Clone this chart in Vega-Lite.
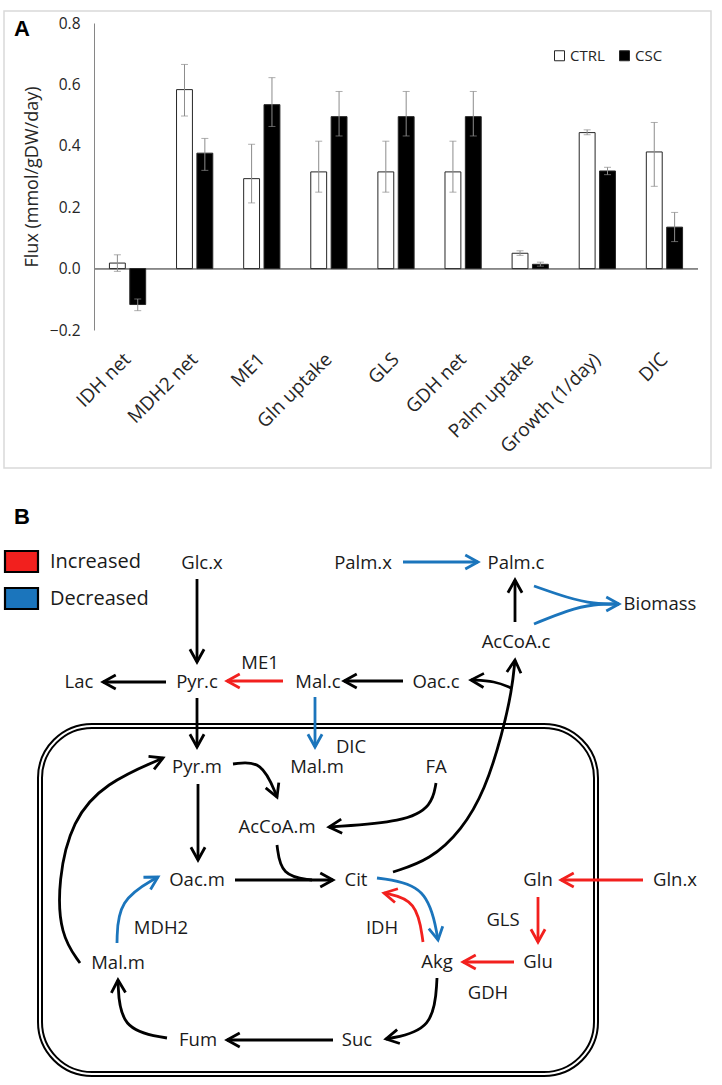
{
  "$schema": "https://vega.github.io/schema/vega-lite/v6.json",
  "width": 604,
  "height": 307,
  "autosize": {"type": "none"},
  "padding": {"left": 94, "top": 23, "right": 24, "bottom": 755},
  "background": "white",
  "config": {"view": {"stroke": null}, "font": "Open Sans"},
  "datasets": {
    "flux": [
      {"cat": "IDH net", "g": "CTRL", "v": 0.018, "lo": -0.009, "hi": 0.045},
      {"cat": "IDH net", "g": "CSC", "v": -0.117, "lo": -0.137, "hi": -0.099},
      {"cat": "MDH2 net", "g": "CTRL", "v": 0.583, "lo": 0.497, "hi": 0.665},
      {"cat": "MDH2 net", "g": "CSC", "v": 0.376, "lo": 0.32, "hi": 0.424},
      {"cat": "ME1", "g": "CTRL", "v": 0.293, "lo": 0.214, "hi": 0.405},
      {"cat": "ME1", "g": "CSC", "v": 0.534, "lo": 0.463, "hi": 0.622},
      {"cat": "Gln uptake", "g": "CTRL", "v": 0.315, "lo": 0.249, "hi": 0.415},
      {"cat": "Gln uptake", "g": "CSC", "v": 0.495, "lo": 0.432, "hi": 0.577},
      {"cat": "GLS", "g": "CTRL", "v": 0.315, "lo": 0.249, "hi": 0.415},
      {"cat": "GLS", "g": "CSC", "v": 0.495, "lo": 0.432, "hi": 0.577},
      {"cat": "GDH net", "g": "CTRL", "v": 0.315, "lo": 0.249, "hi": 0.415},
      {"cat": "GDH net", "g": "CSC", "v": 0.495, "lo": 0.432, "hi": 0.577},
      {"cat": "Palm uptake", "g": "CTRL", "v": 0.05, "lo": 0.043, "hi": 0.058},
      {"cat": "Palm uptake", "g": "CSC", "v": 0.014, "lo": 0.008, "hi": 0.021},
      {"cat": "Growth (1/day)", "g": "CTRL", "v": 0.443, "lo": 0.436, "hi": 0.452},
      {"cat": "Growth (1/day)", "g": "CSC", "v": 0.318, "lo": 0.306, "hi": 0.33},
      {"cat": "DIC", "g": "CTRL", "v": 0.38, "lo": 0.268, "hi": 0.476},
      {"cat": "DIC", "g": "CSC", "v": 0.135, "lo": 0.088, "hi": 0.183}
    ],
    "frames": [{"part": "A", "x1": 4, "x2": 711, "y1": 11, "y2": 468}],
    "membrane": [{"part": "mitochondrion", "x1": 40, "x2": 596, "y1": 726, "y2": 1074}],
    "keys": [
      {"c": "Increased", "x1": 5, "x2": 38, "y1": 551, "y2": 572},
      {"c": "Decreased", "x1": 5, "x2": 38, "y1": 588, "y2": 609}
    ],
    "keytext": [
      {"t": "Increased", "x": 50, "y": 562},
      {"t": "Decreased", "x": 50, "y": 599}
    ],
    "panels": [
      {"t": "A", "x": 22, "y": 29},
      {"t": "B", "x": 22, "y": 517}
    ],
    "nodes": [
      {"t": "Glc.x", "x": 202, "y": 563},
      {"t": "Palm.x", "x": 363, "y": 563},
      {"t": "Palm.c", "x": 516, "y": 563},
      {"t": "Biomass", "x": 660, "y": 604},
      {"t": "AcCoA.c", "x": 516, "y": 642},
      {"t": "Lac", "x": 79, "y": 682},
      {"t": "Pyr.c", "x": 197, "y": 682},
      {"t": "ME1", "x": 260, "y": 663},
      {"t": "Mal.c", "x": 318, "y": 682},
      {"t": "Oac.c", "x": 436, "y": 682},
      {"t": "DIC", "x": 351, "y": 747},
      {"t": "Mal.m", "x": 317, "y": 767},
      {"t": "Pyr.m", "x": 197, "y": 767},
      {"t": "FA", "x": 436, "y": 767},
      {"t": "AcCoA.m", "x": 277, "y": 827},
      {"t": "Oac.m", "x": 197, "y": 880},
      {"t": "Cit", "x": 356, "y": 880},
      {"t": "Gln", "x": 538, "y": 880},
      {"t": "Gln.x", "x": 675, "y": 880},
      {"t": "GLS", "x": 503, "y": 920},
      {"t": "IDH", "x": 382, "y": 928},
      {"t": "MDH2", "x": 161, "y": 928},
      {"t": "Mal.m", "x": 118, "y": 963},
      {"t": "Akg", "x": 437, "y": 962},
      {"t": "Glu", "x": 538, "y": 962},
      {"t": "GDH", "x": 488, "y": 993},
      {"t": "Fum", "x": 198, "y": 1040},
      {"t": "Suc", "x": 357, "y": 1040}
    ],
    "paths": [
      {"p": "glc", "i": 0, "x": 197, "y": 579, "c": "Unchanged"},
      {"p": "glc", "i": 1, "x": 197, "y": 662, "c": "Unchanged"},
      {"p": "lac", "i": 0, "x": 166, "y": 682, "c": "Unchanged"},
      {"p": "lac", "i": 1, "x": 103, "y": 682, "c": "Unchanged"},
      {"p": "me1", "i": 0, "x": 283, "y": 681, "c": "Increased"},
      {"p": "me1", "i": 1, "x": 227, "y": 681, "c": "Increased"},
      {"p": "oacc", "i": 0, "x": 403, "y": 681, "c": "Unchanged"},
      {"p": "oacc", "i": 1, "x": 344, "y": 681, "c": "Unchanged"},
      {"p": "palm", "i": 0, "x": 403, "y": 562, "c": "Decreased"},
      {"p": "palm", "i": 1, "x": 478, "y": 562, "c": "Decreased"},
      {"p": "accpalm", "i": 0, "x": 515, "y": 622, "c": "Unchanged"},
      {"p": "accpalm", "i": 1, "x": 515, "y": 580, "c": "Unchanged"},
      {"p": "bio1", "i": 0, "x": 534, "y": 586, "c": "Decreased"},
      {"p": "bio1", "i": 1, "x": 568, "y": 598, "c": "Decreased"},
      {"p": "bio1", "i": 2, "x": 594, "y": 604, "c": "Decreased"},
      {"p": "bio1", "i": 3, "x": 619, "y": 604, "c": "Decreased"},
      {"p": "bio2", "i": 0, "x": 534, "y": 624, "c": "Decreased"},
      {"p": "bio2", "i": 1, "x": 568, "y": 610, "c": "Decreased"},
      {"p": "bio2", "i": 2, "x": 594, "y": 604, "c": "Decreased"},
      {"p": "bio2", "i": 3, "x": 619, "y": 604, "c": "Decreased"},
      {"p": "pyr", "i": 0, "x": 197, "y": 698, "c": "Unchanged"},
      {"p": "pyr", "i": 1, "x": 197, "y": 747, "c": "Unchanged"},
      {"p": "dic", "i": 0, "x": 315, "y": 697, "c": "Decreased"},
      {"p": "dic", "i": 1, "x": 315, "y": 747, "c": "Decreased"},
      {"p": "citacc", "i": 0, "x": 393, "y": 872, "c": "Unchanged"},
      {"p": "citacc", "i": 1, "x": 430, "y": 860, "c": "Unchanged"},
      {"p": "citacc", "i": 2, "x": 462, "y": 830, "c": "Unchanged"},
      {"p": "citacc", "i": 3, "x": 485, "y": 790, "c": "Unchanged"},
      {"p": "citacc", "i": 4, "x": 502, "y": 735, "c": "Unchanged"},
      {"p": "citacc", "i": 5, "x": 512, "y": 690, "c": "Unchanged"},
      {"p": "citacc", "i": 6, "x": 515, "y": 660, "c": "Unchanged"},
      {"p": "oacbr", "i": 0, "x": 511, "y": 688, "c": "Unchanged"},
      {"p": "oacbr", "i": 1, "x": 495, "y": 681, "c": "Unchanged"},
      {"p": "oacbr", "i": 2, "x": 471, "y": 680, "c": "Unchanged"},
      {"p": "fa", "i": 0, "x": 436, "y": 783, "c": "Unchanged"},
      {"p": "fa", "i": 1, "x": 432, "y": 806, "c": "Unchanged"},
      {"p": "fa", "i": 2, "x": 405, "y": 822, "c": "Unchanged"},
      {"p": "fa", "i": 3, "x": 329, "y": 827, "c": "Unchanged"},
      {"p": "pyracc", "i": 0, "x": 233, "y": 764, "c": "Unchanged"},
      {"p": "pyracc", "i": 1, "x": 262, "y": 760, "c": "Unchanged"},
      {"p": "pyracc", "i": 2, "x": 277, "y": 797, "c": "Unchanged"},
      {"p": "pyroac", "i": 0, "x": 198, "y": 784, "c": "Unchanged"},
      {"p": "pyroac", "i": 1, "x": 198, "y": 860, "c": "Unchanged"},
      {"p": "oaccit", "i": 0, "x": 235, "y": 880, "c": "Unchanged"},
      {"p": "oaccit", "i": 1, "x": 333, "y": 880, "c": "Unchanged"},
      {"p": "accm", "i": 0, "x": 277, "y": 845, "c": "Unchanged"},
      {"p": "accm", "i": 1, "x": 281, "y": 876, "c": "Unchanged"},
      {"p": "accm", "i": 2, "x": 312, "y": 880, "c": "Unchanged"},
      {"p": "malpyr", "i": 0, "x": 80, "y": 963, "c": "Unchanged"},
      {"p": "malpyr", "i": 1, "x": 60, "y": 935, "c": "Unchanged"},
      {"p": "malpyr", "i": 2, "x": 58, "y": 880, "c": "Unchanged"},
      {"p": "malpyr", "i": 3, "x": 72, "y": 820, "c": "Unchanged"},
      {"p": "malpyr", "i": 4, "x": 105, "y": 783, "c": "Unchanged"},
      {"p": "malpyr", "i": 5, "x": 163, "y": 758, "c": "Unchanged"},
      {"p": "mdh2", "i": 0, "x": 117, "y": 943, "c": "Decreased"},
      {"p": "mdh2", "i": 1, "x": 118, "y": 900, "c": "Decreased"},
      {"p": "mdh2", "i": 2, "x": 158, "y": 877, "c": "Decreased"},
      {"p": "citakg", "i": 0, "x": 377, "y": 878, "c": "Decreased"},
      {"p": "citakg", "i": 1, "x": 428, "y": 885, "c": "Decreased"},
      {"p": "citakg", "i": 2, "x": 438, "y": 940, "c": "Decreased"},
      {"p": "idh", "i": 0, "x": 423, "y": 942, "c": "Increased"},
      {"p": "idh", "i": 1, "x": 417, "y": 900, "c": "Increased"},
      {"p": "idh", "i": 2, "x": 384, "y": 893, "c": "Increased"},
      {"p": "gdh", "i": 0, "x": 514, "y": 962, "c": "Increased"},
      {"p": "gdh", "i": 1, "x": 463, "y": 962, "c": "Increased"},
      {"p": "gls", "i": 0, "x": 538, "y": 897, "c": "Increased"},
      {"p": "gls", "i": 1, "x": 538, "y": 942, "c": "Increased"},
      {"p": "glnx", "i": 0, "x": 643, "y": 880, "c": "Increased"},
      {"p": "glnx", "i": 1, "x": 561, "y": 880, "c": "Increased"},
      {"p": "akgsuc", "i": 0, "x": 437, "y": 978, "c": "Unchanged"},
      {"p": "akgsuc", "i": 1, "x": 434, "y": 1030, "c": "Unchanged"},
      {"p": "akgsuc", "i": 2, "x": 386, "y": 1039, "c": "Unchanged"},
      {"p": "sucfum", "i": 0, "x": 333, "y": 1040, "c": "Unchanged"},
      {"p": "sucfum", "i": 1, "x": 227, "y": 1040, "c": "Unchanged"},
      {"p": "fummal", "i": 0, "x": 167, "y": 1038, "c": "Unchanged"},
      {"p": "fummal", "i": 1, "x": 120, "y": 1030, "c": "Unchanged"},
      {"p": "fummal", "i": 2, "x": 118, "y": 980, "c": "Unchanged"}
    ],
    "heads": [
      {"p": "glc", "x": 197, "y": 662, "dir": 90, "c": "Unchanged"},
      {"p": "lac", "x": 103, "y": 682, "dir": 180, "c": "Unchanged"},
      {"p": "me1", "x": 227, "y": 681, "dir": 180, "c": "Increased"},
      {"p": "oacc", "x": 344, "y": 681, "dir": 180, "c": "Unchanged"},
      {"p": "palm", "x": 478, "y": 562, "dir": 0, "c": "Decreased"},
      {"p": "accpalm", "x": 515, "y": 580, "dir": 270, "c": "Unchanged"},
      {"p": "bio", "x": 619, "y": 604, "dir": 0, "c": "Decreased"},
      {"p": "pyr", "x": 197, "y": 747, "dir": 90, "c": "Unchanged"},
      {"p": "dic", "x": 315, "y": 747, "dir": 90, "c": "Decreased"},
      {"p": "citacc", "x": 515, "y": 660, "dir": 275, "c": "Unchanged"},
      {"p": "oacbr", "x": 471, "y": 680, "dir": 182, "c": "Unchanged"},
      {"p": "fa", "x": 329, "y": 827, "dir": 176, "c": "Unchanged"},
      {"p": "pyracc", "x": 277, "y": 797, "dir": 68, "c": "Unchanged"},
      {"p": "pyroac", "x": 198, "y": 860, "dir": 90, "c": "Unchanged"},
      {"p": "oaccit", "x": 333, "y": 880, "dir": 0, "c": "Unchanged"},
      {"p": "malpyr", "x": 163, "y": 758, "dir": 337, "c": "Unchanged"},
      {"p": "mdh2", "x": 158, "y": 877, "dir": 330, "c": "Decreased"},
      {"p": "citakg", "x": 438, "y": 940, "dir": 80, "c": "Decreased"},
      {"p": "idh", "x": 384, "y": 893, "dir": 192, "c": "Increased"},
      {"p": "gdh", "x": 463, "y": 962, "dir": 180, "c": "Increased"},
      {"p": "gls", "x": 538, "y": 942, "dir": 90, "c": "Increased"},
      {"p": "glnx", "x": 561, "y": 880, "dir": 180, "c": "Increased"},
      {"p": "akgsuc", "x": 386, "y": 1039, "dir": 169, "c": "Unchanged"},
      {"p": "sucfum", "x": 227, "y": 1040, "dir": 180, "c": "Unchanged"},
      {"p": "fummal", "x": 118, "y": 980, "dir": 268, "c": "Unchanged"}
    ]
  },
  "layer": [
    {
      "data": {"name": "flux"},
      "layer": [
        {
          "mark": {"type": "rule", "color": "#868686", "strokeWidth": 1},
          "encoding": {"y": {"datum": 0, "type": "quantitative", "title": "Flux (mmol/gDW/day)"}}
        },
        {
          "mark": {"type": "bar", "stroke": "#262626", "strokeWidth": 1},
          "encoding": {
            "x": {
              "field": "cat", "type": "nominal", "sort": null, "title": null,
              "scale": {"paddingInner": 0.46, "paddingOuter": 0.23},
              "axis": {"domain": false, "ticks": false, "labelAngle": -45, "labelAlign": "right", "labelBaseline": "middle", "labelPadding": 26, "labelFontSize": 19, "labelFont": "Open Sans", "labelColor": "#262626", "labelOverlap": false, "labelLimit": 0}
            },
            "xOffset": {"field": "g", "type": "nominal", "sort": ["CTRL", "CSC"], "scale": {"paddingInner": 0.22}},
            "y": {
              "field": "v", "type": "quantitative", "title": "Flux (mmol/gDW/day)",
              "scale": {"domain": [-0.2, 0.8], "nice": false},
              "axis": {"values": [-0.2, 0, 0.2, 0.4, 0.6, 0.8], "format": ".1f", "ticks": false, "grid": false, "domainColor": "#868686", "labelFontSize": 15.5, "labelFont": "Open Sans", "labelColor": "#262626", "labelPadding": 14, "titleFontSize": 18, "titleFont": "Open Sans", "titleFontWeight": "normal", "titleColor": "#262626", "titlePadding": 8, "labelOverlap": false}
            },
            "fill": {
              "field": "g", "type": "nominal", "sort": ["CTRL", "CSC"],
              "scale": {"domain": ["CTRL", "CSC"], "range": ["#ffffff", "#000000"]},
              "legend": {"orient": "none", "legendX": 458, "legendY": 25, "direction": "horizontal", "title": null, "symbolType": "square", "symbolSize": 100, "symbolStrokeColor": "#262626", "symbolStrokeWidth": 1, "labelFontSize": 15, "labelFont": "Open Sans", "labelColor": "#262626", "labelOffset": 3, "columnPadding": 12, "padding": 0}
            }
          }
        },
        {
          "mark": {"type": "rule", "color": "#8c8c8c", "strokeWidth": 1},
          "encoding": {
            "x": {"field": "cat", "type": "nominal", "sort": null, "title": null},
            "xOffset": {"field": "g", "type": "nominal", "sort": ["CTRL", "CSC"]},
            "y": {"field": "lo", "type": "quantitative", "title": "Flux (mmol/gDW/day)"},
            "y2": {"field": "hi"}
          }
        },
        {
          "mark": {"type": "tick", "color": "#8c8c8c", "thickness": 1, "size": 7},
          "encoding": {
            "x": {"field": "cat", "type": "nominal", "sort": null, "title": null},
            "xOffset": {"field": "g", "type": "nominal", "sort": ["CTRL", "CSC"]},
            "y": {"field": "lo", "type": "quantitative", "title": "Flux (mmol/gDW/day)"}
          }
        },
        {
          "mark": {"type": "tick", "color": "#8c8c8c", "thickness": 1, "size": 7},
          "encoding": {
            "x": {"field": "cat", "type": "nominal", "sort": null, "title": null},
            "xOffset": {"field": "g", "type": "nominal", "sort": ["CTRL", "CSC"]},
            "y": {"field": "hi", "type": "quantitative", "title": "Flux (mmol/gDW/day)"}
          }
        }
      ]
    },
    {
      "layer": [
        {
          "data": {"name": "frames"},
          "mark": {"type": "rect", "fillOpacity": 0, "stroke": "#d9d9d9", "strokeWidth": 1.5},
          "encoding": {
            "x": {"field": "x1", "type": "quantitative", "scale": {"domain": [94, 698], "nice": false, "zero": false}, "axis": null},
            "x2": {"field": "x2"},
            "y": {"field": "y1", "type": "quantitative", "scale": {"domain": [23, 330], "nice": false, "zero": false, "reverse": true}, "axis": null},
            "y2": {"field": "y2"}
          }
        },
        {
          "data": {"name": "membrane"},
          "mark": {"type": "rect", "fillOpacity": 0, "stroke": "#000000", "strokeWidth": 6, "cornerRadius": 52},
          "encoding": {
            "x": {"field": "x1", "type": "quantitative", "scale": {"domain": [94, 698], "nice": false, "zero": false}, "axis": null},
            "x2": {"field": "x2"},
            "y": {"field": "y1", "type": "quantitative", "scale": {"domain": [23, 330], "nice": false, "zero": false, "reverse": true}, "axis": null},
            "y2": {"field": "y2"}
          }
        },
        {
          "data": {"name": "membrane"},
          "mark": {"type": "rect", "fillOpacity": 0, "stroke": "#ffffff", "strokeWidth": 2, "cornerRadius": 52},
          "encoding": {
            "x": {"field": "x1", "type": "quantitative", "scale": {"domain": [94, 698], "nice": false, "zero": false}, "axis": null},
            "x2": {"field": "x2"},
            "y": {"field": "y1", "type": "quantitative", "scale": {"domain": [23, 330], "nice": false, "zero": false, "reverse": true}, "axis": null},
            "y2": {"field": "y2"}
          }
        },
        {
          "data": {"name": "keys"},
          "mark": {"type": "rect", "stroke": "#000000", "strokeWidth": 2.2},
          "encoding": {
            "x": {"field": "x1", "type": "quantitative", "scale": {"domain": [94, 698], "nice": false, "zero": false}, "axis": null},
            "x2": {"field": "x2"},
            "y": {"field": "y1", "type": "quantitative", "scale": {"domain": [23, 330], "nice": false, "zero": false, "reverse": true}, "axis": null},
            "y2": {"field": "y2"},
            "color": {"field": "c", "type": "nominal", "scale": {"domain": ["Increased", "Decreased", "Unchanged"], "range": ["#f2201e", "#1b75bc", "#000000"]}, "legend": null}
          }
        },
        {
          "data": {"name": "paths"},
          "mark": {"type": "line", "interpolate": "basis", "strokeWidth": 2.8},
          "encoding": {
            "x": {"field": "x", "type": "quantitative", "scale": {"domain": [94, 698], "nice": false, "zero": false}, "axis": null},
            "y": {"field": "y", "type": "quantitative", "scale": {"domain": [23, 330], "nice": false, "zero": false, "reverse": true}, "axis": null},
            "color": {"field": "c", "type": "nominal", "scale": {"domain": ["Increased", "Decreased", "Unchanged"], "range": ["#f2201e", "#1b75bc", "#000000"]}, "legend": null},
            "detail": {"field": "p", "type": "nominal"},
            "order": {"field": "i", "type": "quantitative"}
          }
        },
        {
          "data": {"name": "heads"},
          "mark": {"type": "point", "shape": "M-1.8,-1L0,0L-1.8,1", "filled": false, "strokeWidth": 2.8, "size": 200, "opacity": 1},
          "encoding": {
            "x": {"field": "x", "type": "quantitative", "scale": {"domain": [94, 698], "nice": false, "zero": false}, "axis": null},
            "y": {"field": "y", "type": "quantitative", "scale": {"domain": [23, 330], "nice": false, "zero": false, "reverse": true}, "axis": null},
            "color": {"field": "c", "type": "nominal", "scale": {"domain": ["Increased", "Decreased", "Unchanged"], "range": ["#f2201e", "#1b75bc", "#000000"]}, "legend": null},
            "angle": {"field": "dir", "type": "quantitative", "scale": null}
          }
        },
        {
          "data": {"name": "nodes"},
          "mark": {"type": "text", "font": "Open Sans", "fontSize": 18.5, "color": "#1a1a1a", "align": "center", "baseline": "middle"},
          "encoding": {
            "x": {"field": "x", "type": "quantitative", "scale": {"domain": [94, 698], "nice": false, "zero": false}, "axis": null},
            "y": {"field": "y", "type": "quantitative", "scale": {"domain": [23, 330], "nice": false, "zero": false, "reverse": true}, "axis": null},
            "text": {"field": "t", "type": "nominal"}
          }
        },
        {
          "data": {"name": "keytext"},
          "mark": {"type": "text", "font": "Open Sans", "fontSize": 20, "color": "#1a1a1a", "align": "left", "baseline": "middle"},
          "encoding": {
            "x": {"field": "x", "type": "quantitative", "scale": {"domain": [94, 698], "nice": false, "zero": false}, "axis": null},
            "y": {"field": "y", "type": "quantitative", "scale": {"domain": [23, 330], "nice": false, "zero": false, "reverse": true}, "axis": null},
            "text": {"field": "t", "type": "nominal"}
          }
        },
        {
          "data": {"name": "panels"},
          "mark": {"type": "text", "font": "Liberation Sans", "fontSize": 22, "fontWeight": "bold", "color": "#000000", "align": "center", "baseline": "middle"},
          "encoding": {
            "x": {"field": "x", "type": "quantitative", "scale": {"domain": [94, 698], "nice": false, "zero": false}, "axis": null},
            "y": {"field": "y", "type": "quantitative", "scale": {"domain": [23, 330], "nice": false, "zero": false, "reverse": true}, "axis": null},
            "text": {"field": "t", "type": "nominal"}
          }
        }
      ]
    }
  ],
  "resolve": {"scale": {"x": "independent", "y": "independent"}}
}
